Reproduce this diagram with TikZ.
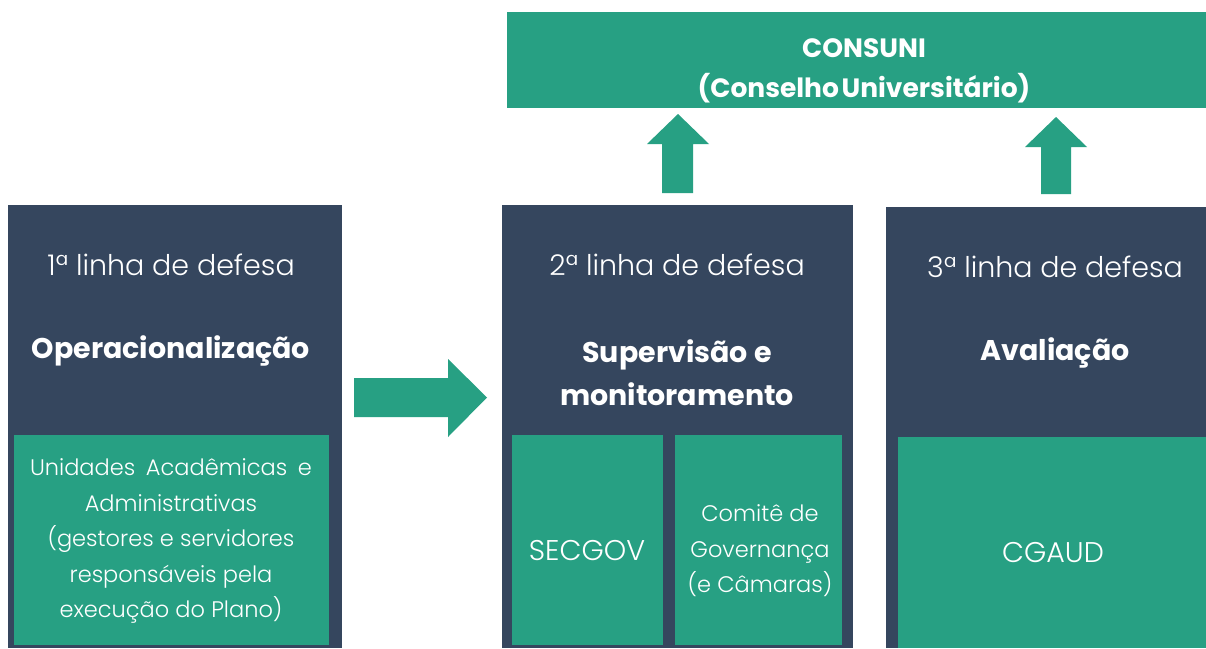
\documentclass[tikz,border=0pt]{standalone}
\usepackage{fontspec}
\setmainfont{Poppins}
\newfontfamily\plight{Poppins}[UprightFont=* Light, BoldFont=* Bold]
\definecolor{navy}{HTML}{35465E}
\definecolor{gteal}{HTML}{27A083}
\tikzset{
  darkbox/.style={fill=navy, draw=none, inner sep=0pt, outer sep=0pt, anchor=north west},
  greenbox/.style={fill=gteal, draw=none, inner sep=0pt, outer sep=0pt, anchor=north west},
  hdr/.style={text=white, font=\plight\fontsize{28.5}{34}\selectfont, inner sep=0pt},
  ttl/.style={text=white, font=\bfseries\fontsize{28.5}{43}\selectfont, align=center, inner sep=0pt},
  body/.style={text=white, font=\plight\fontsize{22.5}{35.5}\selectfont, align=center, inner sep=0pt},
  big/.style={text=white, font=\plight\fontsize{28.5}{34}\selectfont, inner sep=0pt},
  blockarrow/.style={fill=gteal, draw=none}
}
\begin{document}
\begin{tikzpicture}[x=1pt,y=-1pt]
\useasboundingbox (0,0) rectangle (1206,648);
\fill[white] (0,0) rectangle (1206,648);

% top box
\node[greenbox, minimum width=699pt, minimum height=96pt] (top) at (507,12) {};
\node[text=white, font=\bfseries\fontsize{26.5}{40}\selectfont, align=center, inner sep=0pt] (topt) at (864,71) {CONSUNI\\(Conselho\hspace{0.1em}Universit\'ario)};

% dark columns
\node[darkbox, minimum width=334pt, minimum height=443pt] (d1) at (8,205) {};
\node[darkbox, minimum width=351pt, minimum height=443pt] (d2) at (502,205) {};
\node[darkbox, minimum width=320pt, minimum height=441pt] (d3) at (886,207) {};

% green inner boxes
\node[greenbox, minimum width=315pt, minimum height=210pt] (g1) at (14,435) {};
\node[greenbox, minimum width=151pt, minimum height=210pt] (g2a) at (512,435) {};
\node[greenbox, minimum width=167pt, minimum height=210pt] (g2b) at (675,435) {};
\node[greenbox, minimum width=308pt, minimum height=211pt] (g3) at (898,437) {};

% headers
\node[hdr] (h1) at (171,265) {1ª linha de defesa};
\node[hdr] (h2) at (677,265) {2ª linha de defesa};
\node[hdr] (h3) at (1055,267) {3ª linha de defesa};

% titles
\node[ttl] (t1) at (171,351) {Operacionalização};
\node[ttl] (t2) at (677,373) {Supervisão e\\monitoramento};
\node[ttl] (t3) at (1055,353) {Avaliação};

% green texts
\node[body] (b1) at (171,541) {\makebox[282pt][s]{Unidades Acadêmicas e}\\Administrativas\\(gestores e servidores\\responsáveis pela\\execução do Plano)};
\node[big] (s1) at (587,551) {SECGOV};
\node[body] (s2) at (760,551) {Comitê de\\Governança\\(e Câmaras)};
\node[big] (c1) at (1053,553) {CGAUD};

% right arrow between columns
\fill[blockarrow] (354,378) -- (448,378) -- (448,359) -- (487,397.5) -- (448,437) -- (448,417) -- (354,417) -- cycle;
% up arrows
\fill[blockarrow] (662,193) -- (662,144) -- (647,144) -- (678,114) -- (709,144) -- (693,144) -- (693,193) -- cycle;
\fill[blockarrow] (1041,194) -- (1041,147) -- (1025,147) -- (1056,117) -- (1087,147) -- (1071,147) -- (1071,194) -- cycle;
\end{tikzpicture}
\end{document}
